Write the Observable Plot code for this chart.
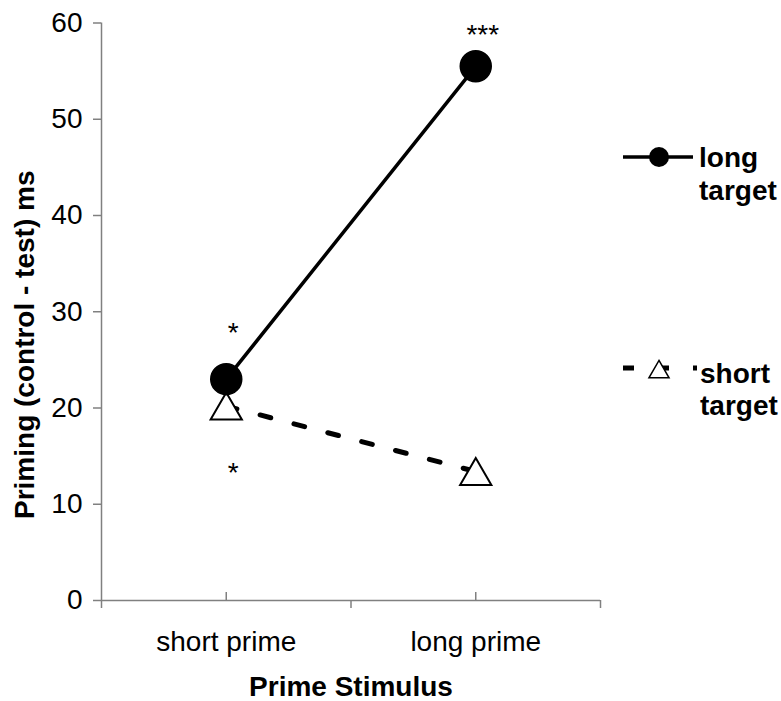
<!DOCTYPE html>
<html><head><meta charset="utf-8">
<script src="https://cdn.jsdelivr.net/npm/d3@7"></script>
<script src="https://cdn.jsdelivr.net/npm/@observablehq/plot@0.6"></script>
<style>body{margin:0;background:#fff;font-family:"Liberation Sans",Arial,sans-serif}</style>
</head><body><div id="chart"></div>
<script>
const categories = ["short prime", "long prime"];
const longTarget = [23.0, 55.5];
const shortTarget = [20.2, 13.4];
const seriesNames = ["long target", "short target"];
const sigLong = ["*", "***"];
const sigLongY = [28.5, 59.5];
const sigShort = ["*"];
const sigShortY = [14.0];
const yTicks = [0, 10, 20, 30, 40, 50, 60];
const xTitle = "Prime Stimulus";
const yTitle = "Priming (control - test) ms";

const longData = categories.map((c, i) => ({x: i + 0.5, y: longTarget[i]}));
const shortData = categories.map((c, i) => ({x: i + 0.5, y: shortTarget[i]}));
const sigLongData = sigLong.map((s, i) => ({x: i + 0.5, y: sigLongY[i], s}));
const sigShortData = sigShort.map((s, i) => ({x: i + 0.5, y: sigShortY[i], s}));
const axisGrey = "#808080";
const FS = 28;
const centers = categories.map((c, i) => i + 0.5);

const plot = Plot.plot({
  width: 781, height: 701,
  marginLeft: 101, marginRight: 181, marginTop: 22.5, marginBottom: 101,
  style: {fontFamily: "'Liberation Sans', Arial, sans-serif", fontSize: FS + "px", color: "black", background: "white"},
  x: {type: "linear", domain: [0, categories.length], axis: null},
  y: {domain: [0, 60], axis: null},
  marks: [
    Plot.axisY({ticks: yTicks, tickSize: 8, tickPadding: 11, stroke: axisGrey, strokeWidth: 1.5, fill: "black", fontSize: FS, label: null}),
    Plot.axisX({ticks: d3.range(categories.length + 1), tickSize: 8, tickFormat: () => "", stroke: axisGrey, strokeWidth: 1.5, label: null}),
    Plot.axisX({ticks: centers, tickSize: -8, tickFormat: () => "", stroke: axisGrey, strokeWidth: 1.5, label: null}),
    Plot.axisX({ticks: centers, tickSize: 0, tickPadding: 31, tickFormat: d => categories[Math.floor(d)], fill: "black", fontSize: FS, label: null}),
    Plot.ruleX([0], {stroke: axisGrey, strokeWidth: 1.5}),
    Plot.ruleY([0], {stroke: axisGrey, strokeWidth: 1.5}),
    Plot.line(shortData, {x: "x", y: "y", stroke: "black", strokeWidth: 5, strokeDasharray: "11,24"}),
    Plot.line(longData, {x: "x", y: "y", stroke: "black", strokeWidth: 3.5}),
    Plot.dot(shortData, {x: "x", y: "y", symbol: "triangle", r: 11.6, dy: 4.5, fill: "white", stroke: "black", strokeWidth: 2}),
    Plot.dot(longData, {x: "x", y: "y", r: 15.5, fill: "black", stroke: "black"}),
    Plot.text(sigLongData, {x: "x", y: "y", text: "s", dx: 7, dy: 7, fontSize: FS, fill: "black"}),
    Plot.text(sigShortData, {x: "x", y: "y", text: "s", dx: 7, dy: 7, fontSize: FS, fill: "black"}),
    Plot.text([xTitle], {frameAnchor: "bottom", textAnchor: "middle", dy: 95, fontWeight: "bold", fontSize: FS, fill: "black"}),
    Plot.text([yTitle], {frameAnchor: "left", textAnchor: "middle", rotate: -90, dx: -76, dy: 33, fontWeight: "bold", fontSize: FS, fill: "black"})
  ]
});

// legend drawn in the right margin
const svg = d3.select(plot);
const lg = svg.append("g")
  .attr("font-family", "'Liberation Sans', Arial, sans-serif")
  .attr("font-weight", "bold").attr("font-size", FS)
  .attr("text-anchor", "start").attr("fill", "black");
const l1 = lg.append("g").attr("transform", "translate(623,157)");
l1.append("line").attr("x1", 0).attr("x2", 70).attr("stroke", "black").attr("stroke-width", 3.5);
l1.append("circle").attr("cx", 36).attr("r", 10).attr("fill", "black");
l1.append("text").attr("x", 76).attr("dy", "0.35em").text(seriesNames[0].split(" ")[0]);
l1.append("text").attr("x", 76).attr("y", 33).attr("dy", "0.35em").text(seriesNames[0].split(" ")[1]);
const l2 = lg.append("g").attr("transform", "translate(623,368)");
l2.append("line").attr("x1", 0).attr("x2", 74).attr("stroke", "black").attr("stroke-width", 5).attr("stroke-dasharray", "11,24");
l2.append("path").attr("d", d3.symbol(d3.symbolTriangle, 175)()).attr("transform", "translate(36,4)").attr("fill", "white").attr("stroke", "black").attr("stroke-width", 1.5);
l2.append("text").attr("x", 77).attr("y", 5).attr("dy", "0.35em").text(seriesNames[1].split(" ")[0]);
l2.append("text").attr("x", 77).attr("y", 37).attr("dy", "0.35em").text(seriesNames[1].split(" ")[1]);

document.getElementById("chart").append(plot);
</script></body></html>
